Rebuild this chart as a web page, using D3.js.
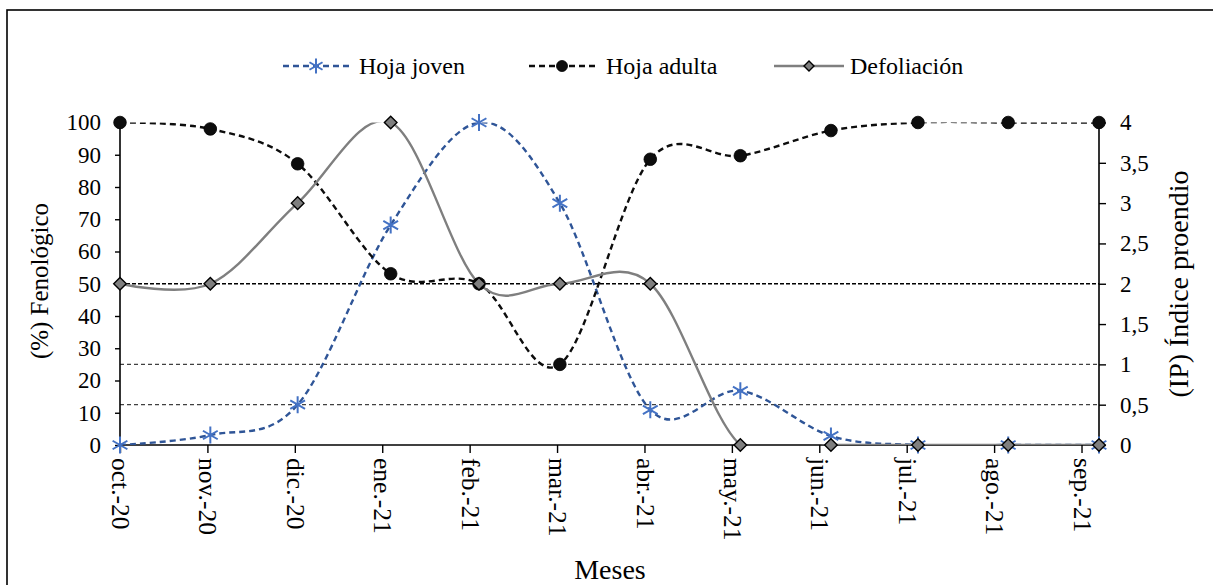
<!DOCTYPE html>
<html><head><meta charset="utf-8">
<script src="https://cdn.jsdelivr.net/npm/d3@7"></script>
<style>
html,body{margin:0;padding:0;background:#fff;}
svg{display:block;}
svg text{font-family:"Liberation Serif","Times New Roman",Tinos,"DejaVu Serif",serif !important;fill:#000;}
</style></head>
<body><svg id="c" width="1213" height="585"></svg>
<script>
// ---- data ----
const monthLabels = ["oct.-20","nov.-20","dic.-20","ene.-21","feb.-21","mar.-21","abr.-21","may.-21","jun.-21","jul.-21","ago.-21","sep.-21"];
const sampleDates = ["2020-10-01","2020-11-02","2020-12-02","2021-01-04","2021-02-04","2021-03-02","2021-04-03","2021-05-04","2021-06-05","2021-07-05","2021-08-06","2021-09-07"];
const hojaJoven  = [0, 3.1, 12.5, 68.2, 100, 75, 10.9, 16.8, 2.8, 0, 0, 0];
const hojaAdulta = [100, 98, 87.2, 53.1, 50, 25, 88.6, 89.7, 97.5, 100, 100, 100];
const defoliacion = [2, 2, 3, 4, 2, 2, 2, 0, 0, 0, 0, 0];
const leftTicks = [0,10,20,30,40,50,60,70,80,90,100];
const rightTicks = [0,0.5,1,1.5,2,2.5,3,3.5,4];
const refLevels = [0.5, 1, 2]; // on right axis (IP)
const seriesNames = ["Hoja joven","Hoja adulta","Defoliación"];

// ---- helpers ----
function monthIndex(s){
  const [y,m,d] = s.split("-").map(Number);
  const dim = new Date(y, m, 0).getDate();
  return (y-2020)*12 + (m-10) + (d-1)/dim;
}
const xs = sampleDates.map(monthIndex);

const svg = d3.select("#c");
const L = 120, R = 1099, T = 122.5, B = 445;
const x = d3.scaleLinear().domain([0, d3.max(xs)]).range([L, R]);
const yL = d3.scaleLinear().domain([0,100]).range([B, T]);
const yR = d3.scaleLinear().domain([0,4]).range([B, T]);

// outer frame
svg.append("rect").attr("x",7).attr("y",10).attr("width",1240).attr("height",620)
  .attr("fill","none").attr("stroke","#000").attr("stroke-width",1.6);

svg.append("clipPath").attr("id","plot").append("rect")
  .attr("x",L).attr("y",T).attr("width",R-L).attr("height",B-T);

// reference dashed lines
svg.append("g").selectAll("line").data(refLevels).join("line")
  .attr("x1",L).attr("x2",R)
  .attr("y1",d=>yR(d)).attr("y2",d=>yR(d))
  .attr("stroke",d=>d===2?"#000":"#404040")
  .attr("stroke-width",d=>d===2?1.6:1.3)
  .attr("stroke-dasharray",d=>d===2?"4,2":"4,3");

// axes
const axL = d3.axisLeft(yL).tickValues(leftTicks).tickSize(5).tickPadding(14);
const gL = svg.append("g").attr("transform",`translate(${L},0)`).call(axL);
const axR = d3.axisRight(yR).tickValues(rightTicks).tickSize(7).tickPadding(14)
  .tickFormat(d=>String(d).replace(".",","));
const gR = svg.append("g").attr("transform",`translate(${R},0)`).call(axR);
const axB = d3.axisBottom(x).tickValues(d3.range(monthLabels.length)).tickSize(8)
  .tickFormat(i=>monthLabels[i]);
const gB = svg.append("g").attr("transform",`translate(0,${B})`).call(axB);
[gL,gR,gB].forEach(g=>{
  g.attr("font-family",null).attr("font-size",null);
  g.select(".domain").attr("stroke","#000").attr("stroke-width",1.6);
  g.selectAll(".tick line").attr("stroke","#000").attr("stroke-width",1.4);
  g.selectAll("text").attr("fill","#000").style("font-size","23px");
});
gL.select(".domain").attr("d",`M0,${B}V${T}`);
gR.select(".domain").attr("d",`M0,${B}V${T}`);
gB.select(".domain").attr("d",`M${L},0H${R}`);
gB.selectAll(".tick text").attr("transform","rotate(90)").attr("text-anchor","start")
  .attr("x",13).attr("y",0).attr("dy","0.33em").style("font-size","25.5px");

// axis titles
svg.append("text").attr("transform","translate(48,281) rotate(-90)").attr("text-anchor","middle")
  .style("font-size","25px").text("(%) Fenológico");
svg.append("text").attr("transform","translate(1188,284) rotate(-90)").attr("text-anchor","middle")
  .style("font-size","28px").text("(IP) Índice proendio");
svg.append("text").attr("x",610).attr("y",579).attr("text-anchor","middle")
  .style("font-size","28px").text("Meses");

// series
const curve = d3.curveCardinal.tension(0);
const ptsJ = xs.map((v,i)=>[x(v), yL(hojaJoven[i])]);
const ptsA = xs.map((v,i)=>[x(v), yL(hojaAdulta[i])]);
const ptsD = xs.map((v,i)=>[x(v), yR(defoliacion[i])]);
const line = d3.line().curve(curve);
const gp = svg.append("g").attr("clip-path","url(#plot)");

function star(g, cx, cy, r, color){
  const a = r*0.87, b = r*0.5;
  g.append("path").attr("d",`M${cx},${cy-r}V${cy+r}M${cx-a},${cy-b}L${cx+a},${cy+b}M${cx-a},${cy+b}L${cx+a},${cy-b}`)
   .attr("stroke",color).attr("stroke-width",2).attr("fill","none");
}
function circ(g,cx,cy,r){ g.append("circle").attr("cx",cx).attr("cy",cy).attr("r",r).attr("fill","#0d0d0d").attr("stroke","#000").attr("stroke-width",0.8); }
function diam(g,cx,cy,s){ g.append("path").attr("d",`M${cx},${cy-s}L${cx+s},${cy}L${cx},${cy+s}L${cx-s},${cy}Z`).attr("fill","#7f7f7f").attr("stroke","#000").attr("stroke-width",1.4); }

gp.append("path").attr("d",line(ptsJ)).attr("fill","none").attr("stroke","#2f5597").attr("stroke-width",2.4).attr("stroke-dasharray","6,4");
const gm1 = svg.append("g"); ptsJ.forEach(p=>star(gm1,p[0],p[1],8.5,"#4472c4"));
gp.append("path").attr("d",line(ptsA)).attr("fill","none").attr("stroke","#0d0d0d").attr("stroke-width",2.4).attr("stroke-dasharray","6,4");
const gm2 = svg.append("g"); ptsA.forEach(p=>circ(gm2,p[0],p[1],6.3));
gp.append("path").attr("d",line(ptsD)).attr("fill","none").attr("stroke","#7f7f7f").attr("stroke-width",2.4);
const gm3 = svg.append("g"); ptsD.forEach(p=>diam(gm3,p[0],p[1],6.3));

// legend
const LY = 66;
const lg = svg.append("g");
const legendItems = [
  {x0:283, x1:349, name:seriesNames[0], tx:359},
  {x0:529, x1:595, name:seriesNames[1], tx:606},
  {x0:774, x1:844, name:seriesNames[2], tx:850}
];
legendItems.forEach((it,i)=>{
  const ln = lg.append("line").attr("x1",it.x0).attr("x2",it.x1).attr("y1",LY).attr("y2",LY).attr("stroke-width",2.4);
  const cx = (it.x0+it.x1)/2;
  if(i===0){ ln.attr("stroke","#2f5597").attr("stroke-dasharray","6,4"); star(lg,cx,LY,7.5,"#4472c4"); }
  if(i===1){ ln.attr("stroke","#0d0d0d").attr("stroke-dasharray","6,4"); circ(lg,cx,LY,5.5); }
  if(i===2){ ln.attr("stroke","#7f7f7f"); diam(lg,cx,LY,5); }
  lg.append("text").attr("x",it.tx).attr("y",LY).attr("dy","0.33em").style("font-size","24px").text(it.name);
});
</script></body></html>
